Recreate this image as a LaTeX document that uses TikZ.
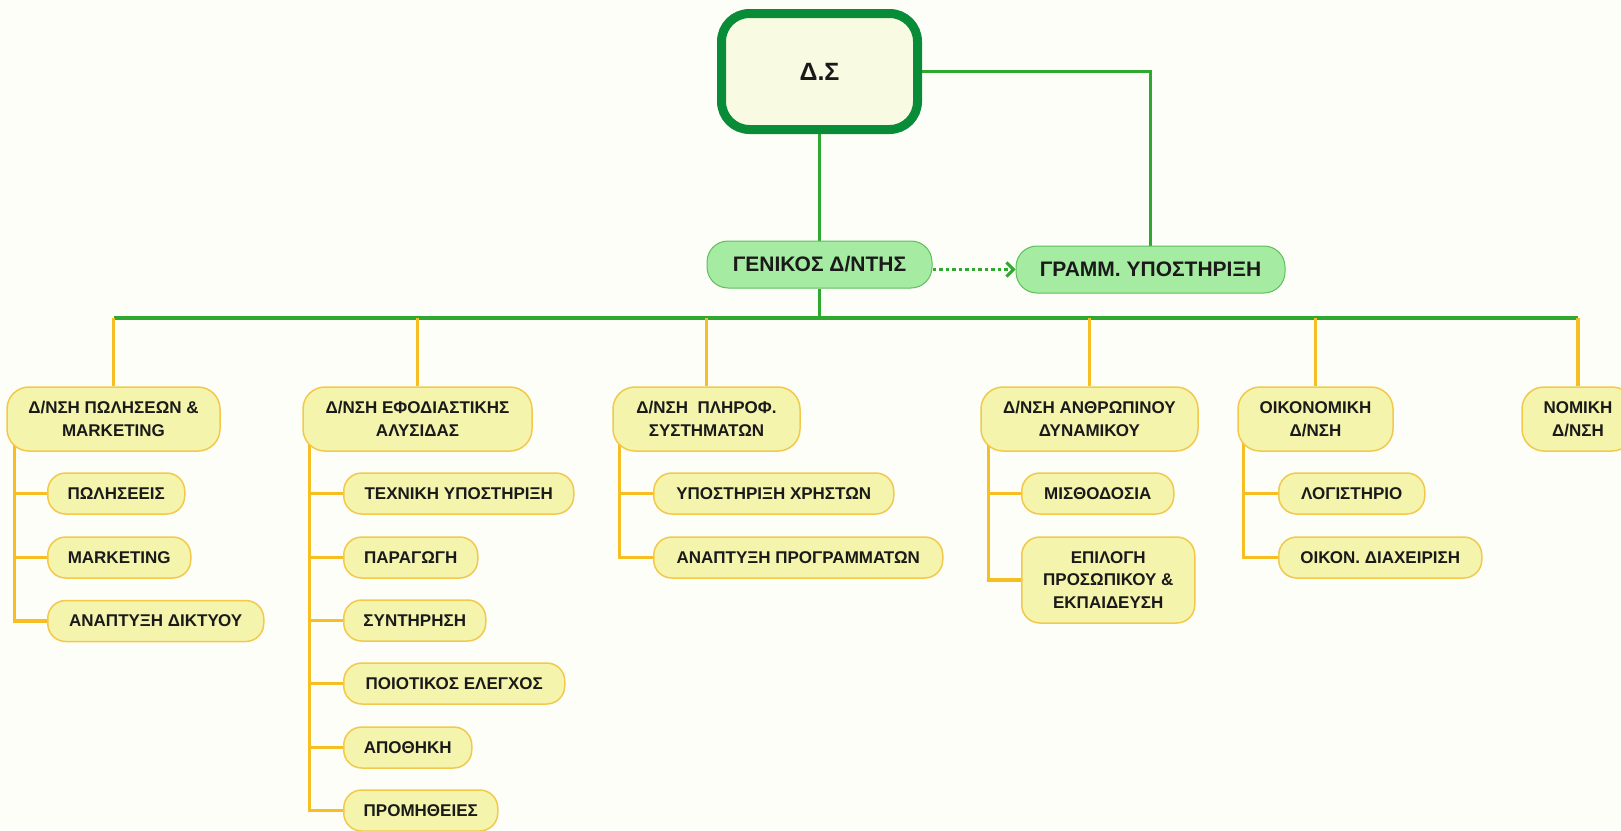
\documentclass[tikz,border=0pt]{standalone}
\usepackage{fontspec}
\setmainfont{Liberation Sans}
\usetikzlibrary{arrows.meta}
\definecolor{bgcol}{HTML}{FEFEF9}
\definecolor{dsgreen}{HTML}{088C38}
\definecolor{dsfill}{HTML}{F8FBE2}
\definecolor{lgreen}{HTML}{2EA82E}
\definecolor{gfill}{HTML}{A6EBA2}
\definecolor{gborder}{HTML}{5CBF5C}
\definecolor{yfill}{HTML}{F4F4AC}
\definecolor{yborder}{HTML}{F2C94C}
\definecolor{yline}{HTML}{F7BE22}
\definecolor{txt}{HTML}{1A1A1A}
\pgfdeclarelayer{bg}
\pgfsetlayers{bg,main}
\tikzset{
  dsbox/.style={draw=dsgreen, line width=9pt, fill=dsfill, rounded corners=28pt,
    minimum width=196pt, minimum height=116pt, inner sep=0pt, text=txt,
    font=\fontsize{25}{30}\selectfont\bfseries},
  genbox/.style={draw=gborder, line width=1pt, fill=gfill, rounded corners=21pt,
    minimum height=47pt, inner sep=0pt, text=txt,
    font=\fontsize{21}{25}\selectfont\bfseries},
  deptbox/.style={draw=yborder, line width=1.5pt, fill=yfill, rounded corners=22pt,
    minimum height=64pt, inner sep=0pt, align=center, text=txt,
    font=\fontsize{17}{22.5}\selectfont\bfseries},
  unitbox/.style={draw=yborder, line width=1.5pt, fill=yfill, rounded corners=18pt,
    minimum height=41pt, inner sep=0pt, align=center, text=txt, anchor=west,
    font=\fontsize{17}{22.5}\selectfont\bfseries},
  gline/.style={draw=lgreen, line width=3.5pt},
  yconn/.style={draw=yline, line width=3.5pt},
  dotarrow/.style={draw=lgreen, line width=3.5pt, dash pattern=on 3.5pt off 3pt,
    -{Straight Barb[length=7pt,width=14pt,line width=3pt]}}
}
\begin{document}
\begin{tikzpicture}[x=1pt,y=-1pt]
\useasboundingbox (0,0) rectangle (1621,830);
\begin{pgfonlayer}{bg}
\fill[bgcol] (0,0) rectangle (1621,830);
\end{pgfonlayer}

% top
\node[dsbox] (ds) at (819.5,71.5) {Δ.Σ};
\node[genbox, minimum width=225pt] (gen) at (819.5,264.5) {ΓΕΝΙΚΟΣ Δ/ΝΤΗΣ};
\node[genbox, minimum width=269pt] (gramm) at (1150.5,269.5) {ΓΡΑΜΜ. ΥΠΟΣΤΗΡΙΞΗ};
\coordinate (bar) at (819.5,318);

% departments
\node[deptbox, minimum width=213pt] (b1) at (113.5,419) {Δ/ΝΣΗ ΠΩΛΗΣΕΩΝ \&\\MARKETING};
\node[deptbox, minimum width=229pt] (b2) at (417.5,419) {Δ/ΝΣΗ ΕΦΟΔΙΑΣΤΙΚΗΣ\\ΑΛΥΣΙΔΑΣ};
\node[deptbox, minimum width=187pt] (b3) at (706.5,419) {Δ/ΝΣΗ\ \ ΠΛΗΡΟΦ.\\ΣΥΣΤΗΜΑΤΩΝ};
\node[deptbox, minimum width=217pt] (b4) at (1089.5,419) {Δ/ΝΣΗ ΑΝΘΡΩΠΙΝΟΥ\\ΔΥΝΑΜΙΚΟΥ};
\node[deptbox, minimum width=155pt] (b5) at (1315.5,419) {ΟΙΚΟΝΟΜΙΚΗ\\Δ/ΝΣΗ};
\node[deptbox, minimum width=112pt] (b6) at (1578,419) {ΝΟΜΙΚΗ\\Δ/ΝΣΗ};

% units
\node[unitbox, minimum width=137pt] (c11) at (47,493.5) {ΠΩΛΗΣΕΕΙΣ};
\node[unitbox, minimum width=143pt] (c12) at (47,557.5) {MARKETING};
\node[unitbox, minimum width=216pt] (c13) at (47,621) {ΑΝΑΠΤΥΞΗ ΔΙΚΤΥΟΥ};

\node[unitbox, minimum width=230pt] (c21) at (343,493.5) {ΤΕΧΝΙΚΗ ΥΠΟΣΤΗΡΙΞΗ};
\node[unitbox, minimum width=134pt] (c22) at (343,557.5) {ΠΑΡΑΓΩΓΗ};
\node[unitbox, minimum width=142pt] (c23) at (343,620.5) {ΣΥΝΤΗΡΗΣΗ};
\node[unitbox, minimum width=221pt] (c24) at (343,683.5) {ΠΟΙΟΤΙΚΟΣ ΕΛΕΓΧΟΣ};
\node[unitbox, minimum width=128pt] (c25) at (343,747.5) {ΑΠΟΘΗΚΗ};
\node[unitbox, minimum width=154pt] (c26) at (343,810.5) {ΠΡΟΜΗΘΕΙΕΣ};

\node[unitbox, minimum width=240pt] (c31) at (653,493.5) {ΥΠΟΣΤΗΡΙΞΗ ΧΡΗΣΤΩΝ};
\node[unitbox, minimum width=289pt] (c32) at (653,557.5) {ΑΝΑΠΤΥΞΗ ΠΡΟΓΡΑΜΜΑΤΩΝ};

\node[unitbox, minimum width=152pt] (c41) at (1021,493.5) {ΜΙΣΘΟΔΟΣΙΑ};
\node[unitbox, minimum width=173pt, minimum height=86pt] (c42) at (1021,580) {ΕΠΙΛΟΓΗ\\ΠΡΟΣΩΠΙΚΟΥ \&\\ΕΚΠΑΙΔΕΥΣΗ};

\node[unitbox, minimum width=146pt] (c51) at (1278,493.5) {ΛΟΓΙΣΤΗΡΙΟ};
\node[unitbox, minimum width=203pt] (c52) at (1278,557.5) {ΟΙΚΟΝ. ΔΙΑΧΕΙΡΙΣΗ};

\begin{pgfonlayer}{bg}
% green structure
\draw[gline] (ds.south) -- (gen.north);
\draw[gline] (ds.east) -| (gramm.north);
\draw[gline] (gen.south) -- (bar);
\draw[gline] (bar -| b1.north) -- (bar -| b6.north);
% yellow drops
\foreach \b in {b1,b2,b3,b4,b5,b6}
  \draw[yconn] (bar -| \b.north) -- (\b.north);
% spines and branches
\foreach \c in {c11,c12,c13}
  \draw[yconn] ([xshift=8pt]b1.west) |- (\c.west);
\foreach \c in {c21,c22,c23,c24,c25,c26}
  \draw[yconn] ([xshift=7pt]b2.west) |- (\c.west);
\foreach \c in {c31,c32}
  \draw[yconn] ([xshift=7pt]b3.west) |- (\c.west);
\foreach \c in {c41,c42}
  \draw[yconn] ([xshift=8pt]b4.west) |- (\c.west);
\foreach \c in {c51,c52}
  \draw[yconn] ([xshift=6pt]b5.west) |- (\c.west);
\end{pgfonlayer}

\draw[dotarrow] (gen.east |- gramm.west) -- (gramm.west);
\end{tikzpicture}
\end{document}
